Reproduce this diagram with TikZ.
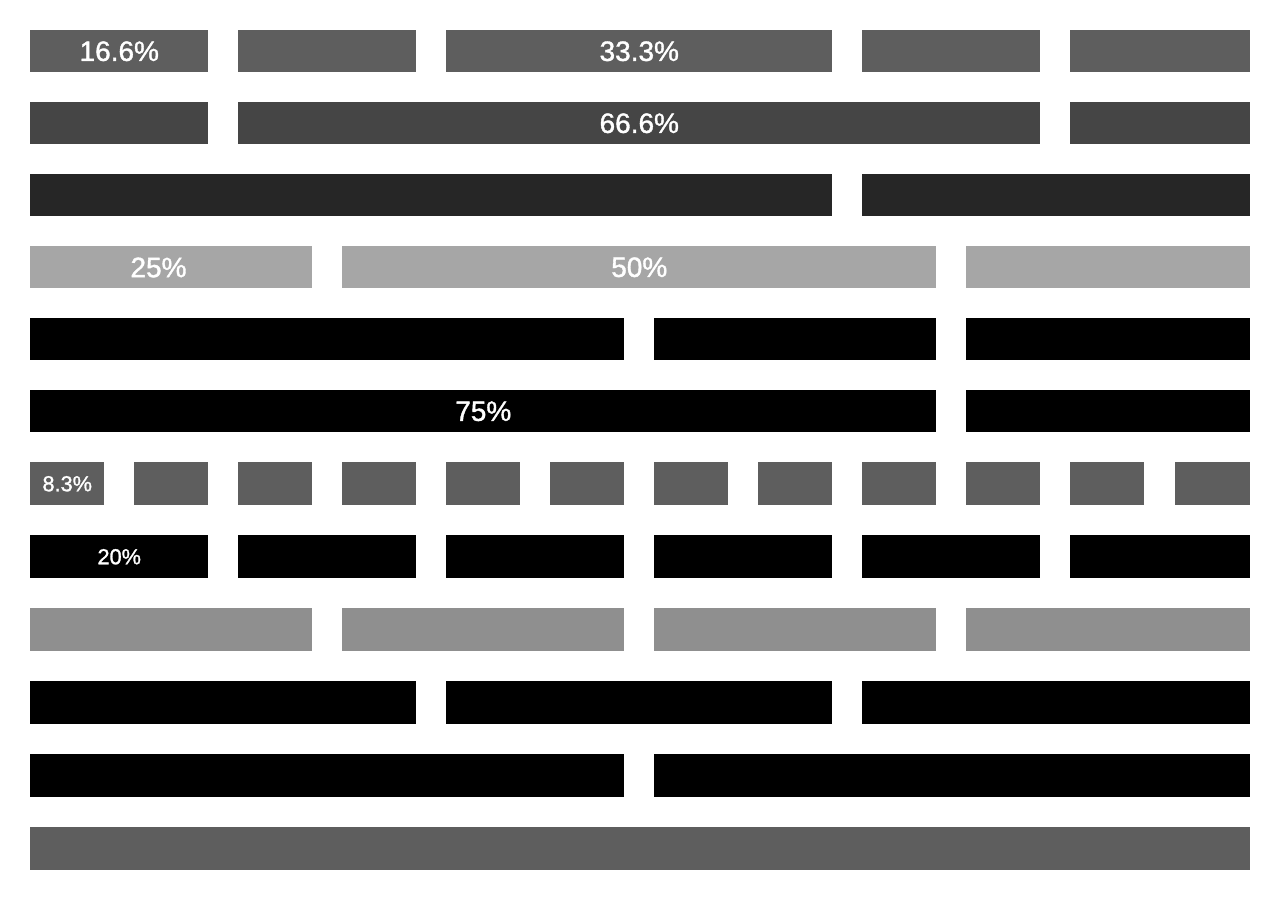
\documentclass[tikz,border=0pt]{standalone}
\usepackage{fontspec}
\setmainfont{Liberation Sans}[BoldFont={Liberation Sans},BoldFeatures={FakeBold=1.3}]
\definecolor{gA}{HTML}{5E5E5E}
\definecolor{gB}{HTML}{454545}
\definecolor{gC}{HTML}{262626}
\definecolor{gD}{HTML}{A6A6A6}
\definecolor{gE}{HTML}{8F8F8F}
\newcommand\gbar[6]{%
  \pgfmathsetmacro\bx{30+#3*104+(#3==11?1:0)}%
  \pgfmathsetmacro\be{(#3+#4==12)?1250:(#3+#4)*104}%
  \pgfmathsetmacro\bw{(\be-\bx)*0.75}%
  \pgfmathsetmacro\by{{30,102,174,246,318,390,462,535,608,681,754,827}[#2]}%
  \pgfmathsetmacro\bh{(#2>5?43:42)*0.75}%
  \node[barbox,fill=#5,minimum width=\bw pt,minimum height=\bh pt] (#1) at (\bx,\by) {#6};%
}
\tikzset{
  barbox/.style={anchor=north west,inner sep=0pt,text=white},
}
\newcommand\bigtxt{\bfseries\fontsize{21}{24}\selectfont}
\newcommand\smalltxt{\bfseries\fontsize{16.3}{18}\selectfont}
\begin{document}
\begin{tikzpicture}[x=0.75pt,y=-0.75pt]
\useasboundingbox (0,0) rectangle (1280,900);
% row 1
\gbar{ra1}{0}{0}{2}{gA}{\bigtxt 16.6\%}
\gbar{ra2}{0}{2}{2}{gA}{}
\gbar{ra3}{0}{4}{4}{gA}{\bigtxt 33.3\%}
\gbar{ra4}{0}{8}{2}{gA}{}
\gbar{ra5}{0}{10}{2}{gA}{}
% row 2
\gbar{rb1}{1}{0}{2}{gB}{}
\gbar{rb2}{1}{2}{8}{gB}{\bigtxt 66.6\%}
\gbar{rb3}{1}{10}{2}{gB}{}
% row 3
\gbar{rc1}{2}{0}{8}{gC}{}
\gbar{rc2}{2}{8}{4}{gC}{}
% row 4
\gbar{rd1}{3}{0}{3}{gD}{}
\gbar{rd2}{3}{3}{6}{gD}{\bigtxt 50\%}
\gbar{rd3}{3}{9}{3}{gD}{}
\node[text=white,inner sep=0pt,font=\bigtxt] (l25) at (158.5,267.5) {25\%};
% row 5
\gbar{re1}{4}{0}{6}{black}{}
\gbar{re2}{4}{6}{3}{black}{}
\gbar{re3}{4}{9}{3}{black}{}
% row 6
\gbar{rf1}{5}{0}{9}{black}{\bigtxt 75\%}
\gbar{rf2}{5}{9}{3}{black}{}
% row 7
\foreach \i in {0,...,11}{
  \ifnum\i=0
    \gbar{rg\i}{6}{\i}{1}{gA}{\smalltxt 8.3\%}
  \else
    \gbar{rg\i}{6}{\i}{1}{gA}{}
  \fi
}
% row 8
\foreach \i in {0,...,5}{
  \pgfmathtruncatemacro\c{2*\i}
  \ifnum\i=0
    \gbar{rh\i}{7}{\c}{2}{black}{\smalltxt 20\%}
  \else
    \gbar{rh\i}{7}{\c}{2}{black}{}
  \fi
}
% row 9
\foreach \i in {0,...,3}{
  \pgfmathtruncatemacro\c{3*\i}
  \gbar{ri\i}{8}{\c}{3}{gE}{}
}
% row 10
\foreach \i in {0,...,2}{
  \pgfmathtruncatemacro\c{4*\i}
  \gbar{rj\i}{9}{\c}{4}{black}{}
}
% row 11
\foreach \i in {0,...,1}{
  \pgfmathtruncatemacro\c{6*\i}
  \gbar{rk\i}{10}{\c}{6}{black}{}
}
% row 12
\gbar{rl0}{11}{0}{12}{gA}{}
\end{tikzpicture}
\end{document}
